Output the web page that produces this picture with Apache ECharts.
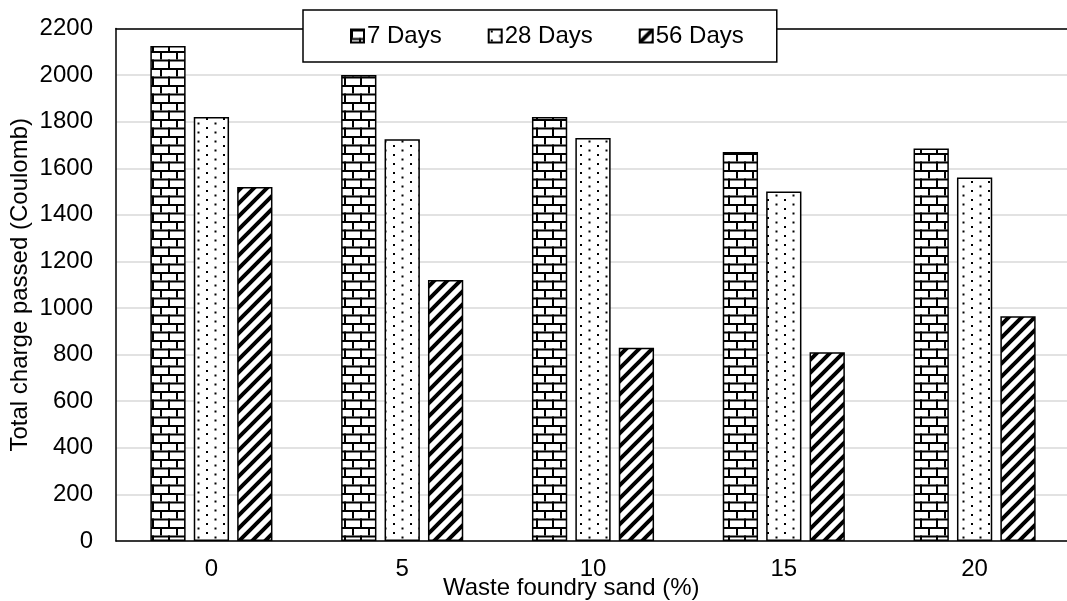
<!DOCTYPE html>
<html>
<head>
<meta charset="utf-8">
<script src="https://cdn.jsdelivr.net/npm/echarts@6/dist/echarts.min.js"></script>
<style>
html,body{margin:0;padding:0;background:#fff;}
#chart{width:1067px;height:601px;}
</style>
</head>
<body>
<div id="chart"></div>
<script>
var categories = ['0', '5', '10', '15', '20'];
var days7 = [2125, 2000, 1820, 1670, 1685];
var days28 = [1820, 1725, 1730, 1500, 1560];
var days56 = [1520, 1120, 830, 810, 965];
var seriesNames = ['7 Days', '28 Days', '56 Days'];

function makeCanvas(w, h, draw) {
  var c = document.createElement('canvas');
  c.width = w; c.height = h;
  var ctx = c.getContext('2d');
  ctx.fillStyle = '#fff';
  ctx.fillRect(0, 0, w, h);
  ctx.fillStyle = '#000';
  ctx.strokeStyle = '#000';
  draw(ctx);
  return c;
}
var brick = makeCanvas(16, 17, function (ctx) {
  ctx.fillRect(0, 0, 16, 2);
  ctx.fillRect(0, 8.5, 16, 2);
  ctx.fillRect(0, 0, 2, 8.5);
  ctx.fillRect(8, 8.5, 2, 8.5);
});
var dots = makeCanvas(17, 9, function (ctx) {
  ctx.fillRect(2, 1, 2, 2);
  ctx.fillRect(10.5, 5.5, 2, 2);
});
var stripes = makeCanvas(13, 13, function (ctx) {
  ctx.lineWidth = 4;
  ctx.beginPath();
  ctx.moveTo(-2, 15); ctx.lineTo(15, -2);
  ctx.moveTo(-8, 8); ctx.lineTo(8, -8);
  ctx.moveTo(5, 21); ctx.lineTo(21, 5);
  ctx.stroke();
});
var patterns = [brick, dots, stripes];
var dataSets = [days7, days28, days56];

var font = 'Liberation Sans, Arial, sans-serif';
var chart = echarts.init(document.getElementById('chart'), null, {renderer: 'canvas'});
var series = seriesNames.map(function (n, i) {
  return {
    name: n,
    type: 'bar',
    data: dataSets[i],
    barGap: '23%',
    barCategoryGap: '36%',
    itemStyle: {
      color: {image: patterns[i], repeat: 'repeat'},
      borderColor: '#000',
      borderWidth: 1.5
    },
    emphasis: {disabled: true}
  };
});
chart.setOption({
  animation: false,
  backgroundColor: '#fff',
  grid: {left: 116, top: 28.5, right: -3, bottom: 60, containLabel: false, outerBoundsMode: 'none'},
  legend: {
    data: seriesNames,
    left: 303, top: 10,
    padding: [14, 33, 14, 47],
    itemWidth: 13, itemHeight: 13, itemGap: 46,
    backgroundColor: '#fff',
    borderColor: '#000', borderWidth: 1.5,
    textStyle: {fontFamily: font, fontSize: 24, color: '#000', padding: [0, 0, 0, -2]},
    icon: 'rect',
    z: 10
  },
  xAxis: [{
    type: 'category',
    data: categories,
    axisLine: {lineStyle: {color: '#000', width: 1.5}},
    axisTick: {show: false},
    axisLabel: {fontFamily: font, fontSize: 24, color: '#000', margin: 16},
    splitLine: {show: false}
  }, {
    type: 'category',
    data: categories,
    position: 'top',
    axisLine: {show: true, lineStyle: {color: '#000', width: 1.5}},
    axisTick: {show: false},
    axisLabel: {show: false},
    splitLine: {show: false}
  }],
  yAxis: {
    type: 'value',
    min: 0, max: 2200, interval: 200,
    name: 'Total charge passed (Coulomb)',
    nameLocation: 'middle',
    nameRotate: 90,
    nameGap: 84,
    nameMoveOverlap: false,
    nameTextStyle: {fontFamily: font, fontSize: 24, color: '#000'},
    axisLine: {show: true, lineStyle: {color: '#000', width: 1.5}},
    axisTick: {show: false},
    axisLabel: {fontFamily: font, fontSize: 24, color: '#000', margin: 23,
      formatter: function (v) { return String(v); }},
    splitLine: {lineStyle: {color: '#d9d9d9', width: 1.5}}
  },
  graphic: [{
    type: 'text',
    left: 443, top: 576,
    style: {text: 'Waste foundry sand (%)', font: '24px ' + font, fill: '#000'}
  }],
  series: series
});
</script>
</body>
</html>
